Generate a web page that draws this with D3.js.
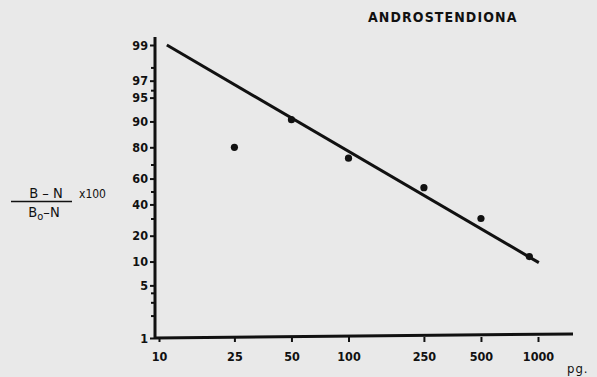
<!DOCTYPE html>
<html>
<head>
<meta charset="utf-8">
<script src="https://cdn.jsdelivr.net/npm/d3@7"></script>
<style>
  body { margin: 0; background: #e9e9e9; }
  svg { display: block; }
  text { font-family: "DejaVu Sans Condensed", "DejaVu Sans", sans-serif; fill: #111; }
</style>
</head>
<body>
<svg width="597" height="377"></svg>
<script>
// data
const doses = [25, 50, 100, 250, 500, 900];          // pg
const binding = [80, 90.5, 74, 53, 30, 11.5];        // (B-N)/(Bo-N) x100
const lineDoses = [11, 1010];
const lineBinding = [99, 9.7];
const xTicks = [10, 25, 50, 100, 250, 500, 1000];
const yTicks = [1, 5, 10, 20, 40, 60, 80, 90, 95, 97, 99];
const yMinorTicks = [2, 3, 4, 30, 50, 70, 96, 98];

var svg = d3.select('svg');
var width = +svg.attr('width');
var height = +svg.attr('height');

const logit = p => Math.log((p / 100) / (1 - p / 100));

const xScale = d3.scaleLog().domain([10, 1000]).range([159, 538]);
const yLin = d3.scaleLinear().domain([logit(1), logit(99)]).range([338, 45]);
const yScale = p => yLin(logit(p));

const axisX0 = 155, axisY0 = 337;

// y axis
const gy = svg.append('g').attr('transform', `translate(${axisX0},0)`);
gy.call(d3.axisLeft(yLin)
    .tickValues(yTicks.map(logit))
    .tickFormat((d, i) => yTicks[i])
    .tickSize(5).tickPadding(2));
gy.append('g').call(d3.axisLeft(yLin)
    .tickValues(yMinorTicks.map(logit))
    .tickFormat('').tickSize(4));
gy.selectAll('.domain').remove();
gy.selectAll('line').attr('stroke', '#111').attr('stroke-width', 2);
gy.selectAll('text').attr('font-size', 12.5).attr('font-weight', 'bold').attr('fill', '#111');

// x axis
const gx = svg.append('g').attr('transform', `translate(0,${axisY0})`);
gx.call(d3.axisBottom(xScale)
    .tickValues(xTicks)
    .tickFormat(d3.format('d'))
    .tickSize(5).tickPadding(10));
gx.selectAll('.domain').remove();
gx.selectAll('line').attr('stroke', '#111').attr('stroke-width', 2);
gx.selectAll('text').attr('font-size', 12.5).attr('font-weight', 'bold').attr('fill', '#111');

// axis lines
svg.append('line').attr('x1', axisX0).attr('x2', axisX0).attr('y1', 37).attr('y2', axisY0 + 2)
  .attr('stroke', '#111').attr('stroke-width', 3);
svg.append('line').attr('x1', axisX0).attr('x2', 573).attr('y1', axisY0 + 1).attr('y2', axisY0 - 3)
  .attr('stroke', '#111').attr('stroke-width', 3);

// fitted line
const lineData = lineDoses.map((d, i) => ({dose: d, b: lineBinding[i]}));
svg.append('path').datum(lineData)
  .attr('d', d3.line().x(d => xScale(d.dose)).y(d => yScale(d.b)))
  .attr('stroke', '#111').attr('stroke-width', 3).attr('fill', 'none');

// points
const pts = doses.map((d, i) => ({dose: d, b: binding[i]}));
svg.selectAll('circle.pt').data(pts)
  .enter().append('circle')
  .attr('class', 'pt')
  .attr('cx', d => xScale(d.dose))
  .attr('cy', d => yScale(d.b))
  .attr('r', 3.6)
  .attr('fill', '#111');

// title
svg.append('text').attr('x', 368).attr('y', 22)
  .attr('font-size', 14).attr('letter-spacing', 1.1)
  .attr('font-weight', 600)
  .attr('font-family', 'DejaVu Sans')
  .text('ANDROSTENDIONA');

// y label as fraction
svg.append('text').attr('x', 46).attr('y', 198).attr('text-anchor', 'middle')
  .attr('font-size', 14.5).attr('font-family', 'Liberation Sans, Arial')
  .text('B \u2013 N');
svg.append('line').attr('x1', 11).attr('x2', 72).attr('y1', 201.5).attr('y2', 201.5)
  .attr('stroke', '#111').attr('stroke-width', 1.4);
const bo = svg.append('text').attr('x', 44).attr('y', 217).attr('text-anchor', 'middle')
  .attr('font-size', 14.5).attr('font-family', 'Liberation Sans, Arial');
bo.append('tspan').text('B');
bo.append('tspan').attr('font-size', 11).attr('dy', 3).text('o');
bo.append('tspan').attr('dy', -3).text('\u2013N');
svg.append('text').attr('x', 79).attr('y', 198)
  .attr('font-size', 12).attr('font-family', 'DejaVu Sans Condensed')
  .text('x100');

// unit
svg.append('text').attr('x', 567).attr('y', 373)
  .attr('font-size', 13).attr('font-family', 'DejaVu Sans')
  .attr('letter-spacing', 1)
  .text('pg.');
</script>
</body>
</html>
